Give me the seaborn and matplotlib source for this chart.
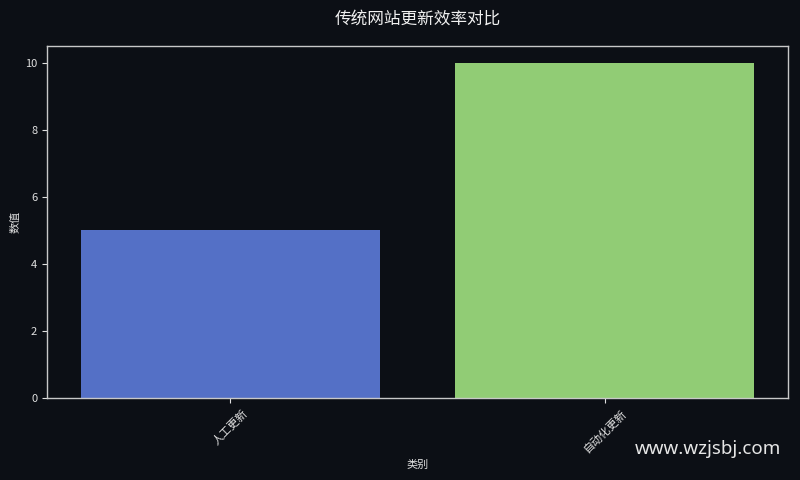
import matplotlib
matplotlib.use("Agg")
import matplotlib.pyplot as plt
import seaborn as sns
import pandas as pd

categories = ["人工更新", "自动化更新"]
values = [5, 10]
colors = ["#5470c6", "#91cc75"]
title = "传统网站更新效率对比"
xlabel = "类别"
ylabel = "数值"
watermark = "www.wzjsbj.com"

bg = "#0c0f15"
sns.set_theme(style="dark")
plt.rcParams["font.family"] = ["Noto Sans CJK SC", "DejaVu Sans"]
plt.rcParams["axes.unicode_minus"] = False

fig = plt.figure(figsize=(8, 4.8), dpi=100, facecolor=bg)
ax = fig.add_axes([47/800, 1 - 398/480, (788-47)/800, (398-46)/480])
ax.set_facecolor(bg)

df = pd.DataFrame({"cat": categories, "val": values})
sns.barplot(data=df, x="cat", y="val", hue="cat", palette=colors, width=0.8,
            legend=False, ax=ax, saturation=1, linewidth=0, edgecolor="none")
ax.set_xlim(-0.49, 1.49)
ax.set_ylim(0, 10.5)
ax.set_yticks([0, 2, 4, 6, 8, 10])

for s in ax.spines.values():
    s.set_visible(True)
    s.set_color("#c8c8c8")
    s.set_linewidth(1.0)
ax.grid(False)
ax.tick_params(axis="both", colors="#e0e0e0", labelsize=8, length=3.5, width=0.8,
               left=True, bottom=True)
plt.setp(ax.get_xticklabels(), rotation=45)
ax.set_xlabel(xlabel, color="#e0e0e0", fontsize=8, labelpad=4)
ax.set_ylabel(ylabel, color="#e0e0e0", fontsize=8, labelpad=3)
ax.set_title(title, color="#f0f0f0", fontsize=12, pad=16)

fig.text(781/800, 1 - 449/480, watermark, ha="right", va="center",
         fontsize=13.5, color="#e6e6e6", family=["Noto Sans", "DejaVu Sans"])

fig.savefig("out.png", dpi=100, facecolor=bg)
